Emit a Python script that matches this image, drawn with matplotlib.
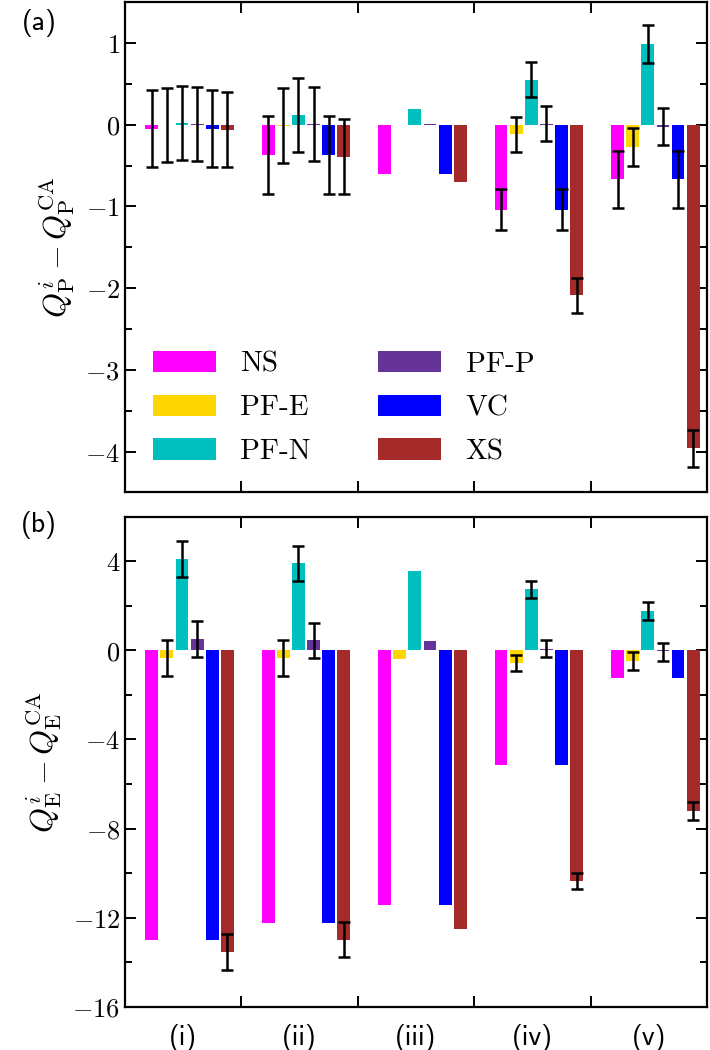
import numpy as np
import matplotlib
matplotlib.use("Agg")
import matplotlib.pyplot as plt
from matplotlib.ticker import MultipleLocator, FixedLocator

plt.rcParams['mathtext.fontset'] = 'cm'
plt.rcParams['axes.unicode_minus'] = False

# data
groups = ['(i)', '(ii)', '(iii)', '(iv)', '(v)']
methods = ['NS', 'PF-E', 'PF-N', 'PF-P', 'VC', 'XS']
colors = ['#ff00ff', '#ffd700', '#00bfbf', '#663399', '#0000ff', '#a52a2a']

# panel (a): Q_P differences, rows = methods, cols = groups
qp = np.array([
    [-0.05, -0.37, -0.60, -1.04, -0.67],   # NS
    [-0.005, -0.01, -0.005, -0.12, -0.27], # PF-E
    [0.015, 0.12, 0.196, 0.55, 0.985],     # PF-N
    [0.008, 0.008, 0.004, 0.005, -0.025],  # PF-P
    [-0.05, -0.37, -0.60, -1.04, -0.67],   # VC
    [-0.06, -0.39, -0.70, -2.08, -3.96],   # XS
])
qp_err = np.array([
    [0.47, 0.475, np.nan, 0.25, 0.35],
    [0.455, 0.457, np.nan, 0.215, 0.23],
    [0.455, 0.455, np.nan, 0.216, 0.23],
    [0.457, 0.457, np.nan, 0.214, 0.227],
    [0.47, 0.475, np.nan, 0.25, 0.35],
    [0.46, 0.46, np.nan, 0.215, 0.23],
])
qp_err_mid = np.array([
    [-0.05, -0.37, np.nan, -1.04, -0.67],
    [0.0, -0.008, np.nan, -0.12, -0.27],
    [0.02, 0.12, np.nan, 0.55, 0.985],
    [0.01, 0.01, np.nan, 0.01, -0.025],
    [-0.05, -0.37, np.nan, -1.04, -0.67],
    [-0.06, -0.385, np.nan, -2.09, -3.96],
])

# panel (b): Q_E differences
qe = np.array([
    [-13.0, -12.23, -11.41, -5.16, -1.24],  # NS
    [-0.34, -0.34, -0.39, -0.57, -0.49],    # PF-E
    [4.10, 3.90, 3.58, 2.75, 1.78],         # PF-N
    [0.51, 0.45, 0.40, 0.05, -0.04],        # PF-P
    [-13.0, -12.23, -11.41, -5.16, -1.24],  # VC
    [-13.52, -12.98, -12.5, -10.36, -7.21], # XS
])
qe_err = np.array([
    [np.nan, np.nan, np.nan, np.nan, np.nan],
    [0.79, 0.79, np.nan, 0.37, 0.40],
    [0.79, 0.79, np.nan, 0.38, 0.40],
    [0.81, 0.79, np.nan, 0.39, 0.40],
    [np.nan, np.nan, np.nan, np.nan, np.nan],
    [0.81, 0.80, np.nan, 0.37, 0.41],
])
qe_err_mid = np.array([
    [np.nan] * 5,
    [-0.34, -0.34, np.nan, -0.57, -0.49],
    [4.10, 3.91, np.nan, 2.75, 1.78],
    [0.51, 0.45, np.nan, 0.07, -0.06],
    [np.nan] * 5,
    [-13.52, -12.98, np.nan, -10.36, -7.20],
])

yticks_a = [1, 0, -1, -2, -3, -4]
yticks_b = [4, 0, -4, -8, -12, -16]

fig = plt.figure(figsize=(7.1, 10.5), dpi=100)
ax1 = fig.add_axes([0.176, 0.531, 0.820, 0.467])
ax2 = fig.add_axes([0.176, 0.041, 0.820, 0.467])

centers = np.arange(len(groups)) + 0.5
pitch = 0.13
width = 0.11
shift = 0.055


def draw(ax, vals, errs, mids):
    for k, (name, col) in enumerate(zip(methods, colors)):
        x = centers + shift + (k - 2.5) * pitch
        ax.bar(x, vals[k], width=width, color=col, label=name, zorder=2)
        ok = ~np.isnan(errs[k])
        ax.errorbar(x[ok], mids[k][ok], yerr=errs[k][ok], fmt='none',
                    ecolor='black', elinewidth=1.8, capsize=4, capthick=1.8, zorder=3)


draw(ax1, qp, qp_err, qp_err_mid)
draw(ax2, qe, qe_err, qe_err_mid)

for ax in (ax1, ax2):
    ax.set_xlim(0, 5)
    ax.xaxis.set_major_locator(FixedLocator([1, 2, 3, 4]))
    for s in ax.spines.values():
        s.set_linewidth(1.6)
    ax.tick_params(which='both', direction='in', top=True, right=True, width=1.4)
    ax.tick_params(which='major', length=8, labelsize=19)
    ax.tick_params(which='minor', length=5)
    ax.set_xticklabels([])

ax1.set_ylim(-4.5, 1.5)
ax1.set_yticks(yticks_a, labels=[f'${t}$' for t in yticks_a])
ax1.yaxis.set_minor_locator(MultipleLocator(0.5))
ax1.set_ylabel(r'$Q_{\rm P}^{i} - Q_{\rm P}^{\rm CA}$', fontsize=23, labelpad=6)

ax2.set_ylim(-16, 6)
ax2.set_yticks(yticks_b, labels=[f'${t}$' for t in yticks_b])
ax2.yaxis.set_minor_locator(MultipleLocator(2))
ax2.set_ylabel(r'$Q_{\rm E}^{i} - Q_{\rm E}^{\rm CA}$', fontsize=23, labelpad=6)
ax2.xaxis.set_minor_locator(FixedLocator(centers))
ax2.set_xticklabels(groups, minor=True, family='cmss10', fontsize=20)
ax2.tick_params(axis='x', which='minor', length=0, pad=12)

leg = ax1.legend(ncol=2, loc='upper left', bbox_to_anchor=(0.048, 0.289),
                 borderaxespad=0, borderpad=0,
                 frameon=False, handlelength=2.15, handleheight=0.75,
                 handletextpad=0.85, columnspacing=2.3, labelspacing=0.58,
                 prop={'family': 'cmr10', 'size': 21})

fig.text(0.055, 0.978, '(a)', family='cmss10', fontsize=20, va='center', ha='center')
fig.text(0.055, 0.5, '(b)', family='cmss10', fontsize=20, va='center', ha='center')

fig.savefig('out.png', dpi=100)
